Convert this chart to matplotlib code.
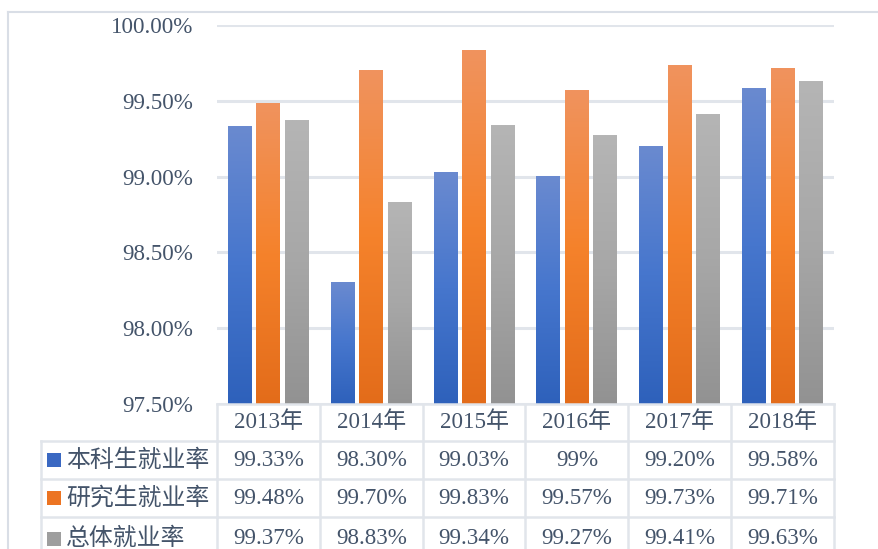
import numpy as np
import matplotlib
matplotlib.use("Agg")
import matplotlib.pyplot as plt
from matplotlib.colors import LinearSegmentedColormap
from matplotlib.transforms import blended_transform_factory
from matplotlib.lines import Line2D
from matplotlib.patches import Rectangle

years = ["2013年", "2014年", "2015年", "2016年", "2017年", "2018年"]
series_names = ["本科生就业率", "研究生就业率", "总体就业率"]
undergrad = [99.33, 98.30, 99.03, 99.00, 99.20, 99.58]
graduate = [99.48, 99.70, 99.83, 99.57, 99.73, 99.71]
overall = [99.37, 98.83, 99.34, 99.27, 99.41, 99.63]
undergrad_labels = ["99.33%", "98.30%", "99.03%", "99%", "99.20%", "99.58%"]
graduate_labels = ["99.48%", "99.70%", "99.83%", "99.57%", "99.73%", "99.71%"]
overall_labels = ["99.37%", "98.83%", "99.34%", "99.27%", "99.41%", "99.63%"]
yticks = [97.5, 98.0, 98.5, 99.0, 99.5, 100.0]

series = [undergrad, graduate, overall]
labels = [undergrad_labels, graduate_labels, overall_labels]
grads = [
    ["#2e61bb", "#4676cd", "#6a8ad0"],   # bottom, mid, top
    ["#e36c1a", "#f5822b", "#f0935e"],
    ["#929292", "#a7a7a7", "#b5b5b5"],
]
legend_colors = ["#3a68c2", "#ec7422", "#9e9e9e"]

TXT = "#44546a"
GRID = "#e1e5eb"
SERIF = ["Liberation Serif", "Noto Sans CJK SC"]
CJK = ["Noto Sans CJK SC", "DejaVu Sans"]
FS = 16.6

W, H = 879, 549
fig = plt.figure(figsize=(W / 100, H / 100), dpi=100)

def fx(px):
    return px / W

def fy(py):
    return 1 - py / H

ax_left, ax_right, ax_top, ax_bot = 217, 834, 25, 404
ax = fig.add_axes([fx(ax_left), fy(ax_bot), fx(ax_right - ax_left), (ax_bot - ax_top) / H])
ax.set_xlim(-0.5, len(years) - 0.5)
ax.set_ylim(97.5, 100.0)
ax.set_yticks(yticks)
ax.set_yticklabels([f"{v:.2f}%" for v in yticks], fontfamily=SERIF, fontsize=FS, color=TXT)
ax.tick_params(axis="y", length=0, pad=17)
ax.set_xticks([])
for s in ax.spines.values():
    s.set_visible(False)
ax.yaxis.grid(True, color=GRID, linewidth=2.2)
ax.set_axisbelow(True)

x = np.arange(len(years))
bw = 0.233
offs = [-0.277, 0.0, 0.277]
grad = np.linspace(0, 1, 256).reshape(-1, 1)
for vals, off, cols in zip(series, offs, grads):
    cmap = LinearSegmentedColormap.from_list("g", cols)
    bars = ax.bar(x + off, np.array(vals) - 97.5, bw, bottom=97.5, color="none", zorder=2)
    for r in bars:
        x0, y0 = r.get_x(), r.get_y()
        ax.imshow(grad, extent=[x0, x0 + r.get_width(), y0, y0 + r.get_height()],
                  origin="lower", aspect="auto", cmap=cmap, zorder=2, interpolation="bilinear")
ax.set_xlim(-0.5, len(years) - 0.5)
ax.set_ylim(97.5, 100.0)

# table
tr = blended_transform_factory(ax.transData, fig.transFigure)
row_edges = [404, 441, 479, 517, 560]
lw = 1.8
for py in row_edges[:-1]:
    ax.add_line(Line2D([-0.5, len(years) - 0.5], [fy(py), fy(py)], transform=tr,
                       color=GRID, lw=lw, clip_on=False))
for i in range(len(years) + 1):
    ax.add_line(Line2D([i - 0.5, i - 0.5], [fy(404), fy(560)], transform=tr,
                       color=GRID, lw=lw, clip_on=False))
for py in row_edges[1:-1]:
    fig.add_artist(Line2D([fx(41), fx(ax_left)], [fy(py), fy(py)], color=GRID, lw=lw))
fig.add_artist(Line2D([fx(41), fx(41)], [fy(441), fy(560)], color=GRID, lw=lw))

for i, yr in enumerate(years):
    ax.text(i, fy(422), yr, transform=tr, ha="center", va="center",
            fontfamily=SERIF, fontsize=FS, color=TXT)
for r, (name, labs) in enumerate(zip(series_names, labels)):
    cy = (row_edges[r + 1] + row_edges[r + 2]) / 2
    fig.add_artist(Rectangle((fx(47), fy(cy + 7)), fx(14), 14 / H,
                             facecolor=legend_colors[r], edgecolor="none"))
    fig.text(fx(66), fy(cy), name, ha="left", va="center", fontfamily=CJK,
             fontsize=17.2, color=TXT)
    for i, lab in enumerate(labs):
        ax.text(i, fy(cy), lab, transform=tr, ha="center", va="center",
                fontfamily=SERIF, fontsize=FS, color=TXT)

fig.add_artist(Line2D([fx(8), fx(8)], [fy(12), 0], color="#d9dee6", lw=1.5))
fig.add_artist(Line2D([fx(8), 1], [fy(12), fy(12)], color="#d9dee6", lw=1.5))

fig.savefig("out.png", dpi=100)
